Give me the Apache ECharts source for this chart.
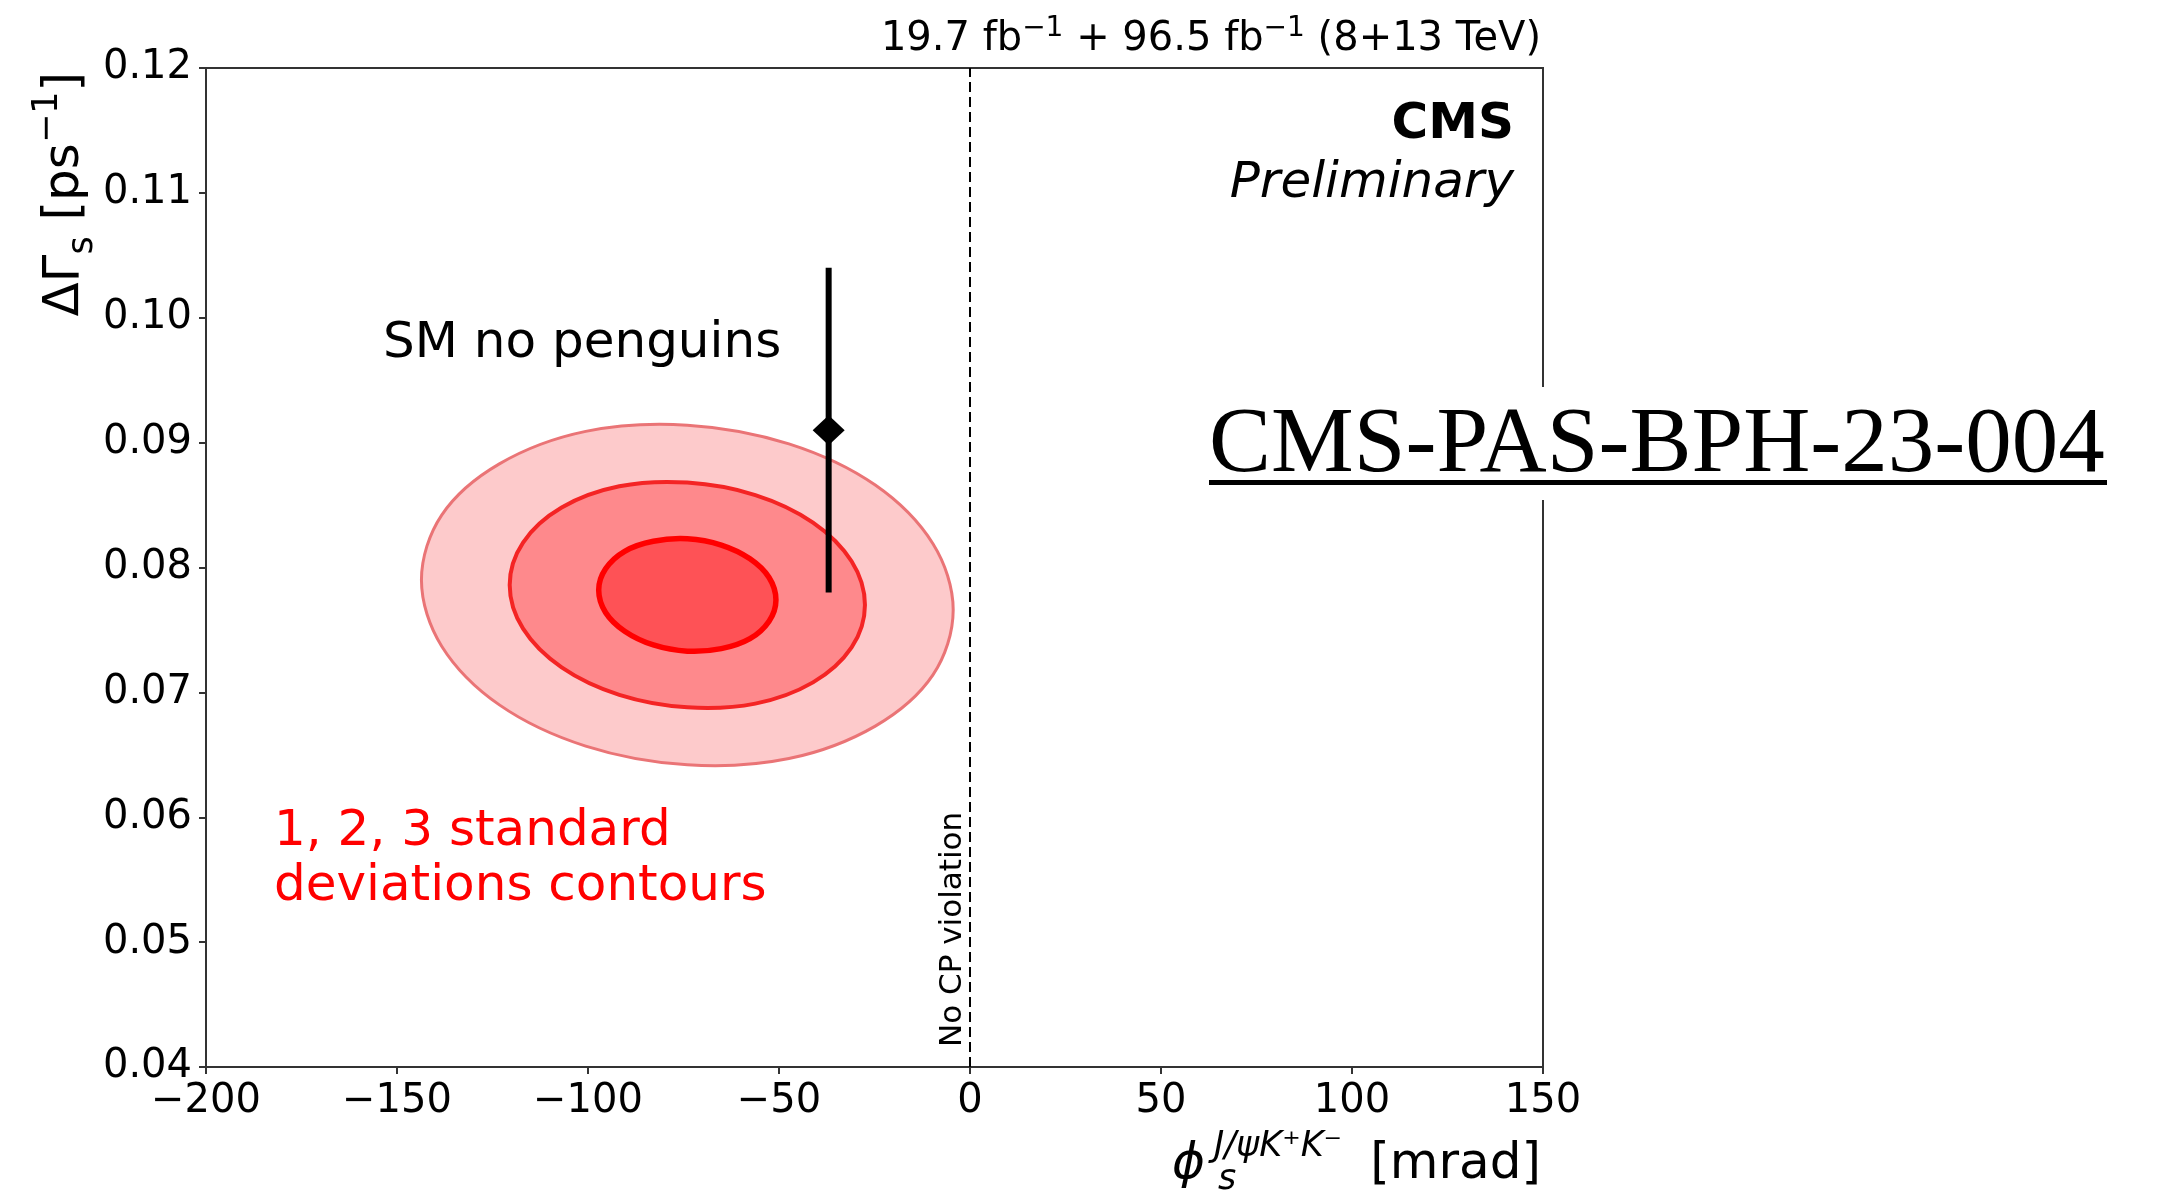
<!DOCTYPE html>
<html>
<head>
<meta charset="utf-8">
<script src="https://cdn.jsdelivr.net/npm/echarts@6/dist/echarts.min.js"></script>
<style>
  html, body { margin: 0; padding: 0; background: #fff; }
  #chart { width: 2162px; height: 1194px; }
</style>
</head>
<body>
<div id="chart"></div>
<script>
// Likelihood contours of the fit in the (phi_s [mrad], Delta Gamma_s [ps^-1]) plane
const contour1sigma = [
  [-50.8, 0.0774], [-52.6, 0.0757], [-57.6, 0.0743], [-65.1, 0.0735],
  [-74.0, 0.0733], [-82.9, 0.0738], [-90.4, 0.0749], [-95.4, 0.0764],
  [-97.2, 0.0782], [-95.4, 0.0799], [-90.4, 0.0813], [-82.9, 0.0821],
  [-74.0, 0.0823], [-65.1, 0.0818], [-57.6, 0.0807], [-52.6, 0.0792]
];
const contour2sigma = [
  [-27.5, 0.0770], [-31.0, 0.0736], [-41.1, 0.0708], [-56.2, 0.0691],
  [-74.0, 0.0688], [-91.8, 0.0698], [-106.9, 0.0720], [-117.0, 0.0751],
  [-120.5, 0.0786], [-117.0, 0.0820], [-106.9, 0.0848], [-91.8, 0.0865],
  [-74.0, 0.0868], [-56.2, 0.0858], [-41.1, 0.0836], [-31.0, 0.0805]
];
const contour3sigma = [
  [-4.4, 0.0766], [-9.7, 0.0714], [-24.8, 0.0673], [-47.4, 0.0647],
  [-74.0, 0.0642], [-100.6, 0.0657], [-123.2, 0.0690], [-138.3, 0.0737],
  [-143.6, 0.0790], [-138.3, 0.0842], [-123.2, 0.0883], [-100.6, 0.0909],
  [-74.0, 0.0914], [-47.4, 0.0899], [-24.8, 0.0866], [-9.7, 0.0819]
];

// Standard Model expectation without penguin contributions
const smPoint = [-37, 0.091];
const smUncertainty = 0.013;

// Reference line for phi_s = 0 (no CP violation)
const noCpLine = [[0, 0.04], [0, 0.12]];

// Axis ranges and tick spacing
const xRange = [-200, 150];
const xStep = 50;
const yRange = [0.04, 0.12];
const yStep = 0.01;

const FONT = 'DejaVu Sans';
const chart = echarts.init(document.getElementById('chart'), null, { renderer: 'canvas' });

function contourSeries(points, fill, stroke, width) {
  return {
    type: 'custom',
    coordinateSystem: 'cartesian2d',
    silent: true,
    data: points,
    renderItem(params, api) {
      if (params.dataIndex !== 0) return null;
      const pts = points.map(p => api.coord(p));
      return {
        type: 'polygon',
        shape: { points: pts, smooth: 0.34 },
        style: { fill: fill, stroke: stroke, lineWidth: width }
      };
    }
  };
}

const minus = v => (v < 0 ? '\u2212' + Math.abs(v) : String(v));

const option = {
  backgroundColor: '#fff',
  animation: false,
  grid: {
    left: 206, right: 619, top: 68, bottom: 127,
    show: true, borderColor: '#333', borderWidth: 2,
    containLabel: false, outerBoundsMode: 'none'
  },
  xAxis: {
    type: 'value', min: xRange[0], max: xRange[1], interval: xStep,
    axisLine: { show: true, onZero: false, lineStyle: { color: '#333', width: 2 } },
    axisTick: { show: true, length: 7, lineStyle: { color: '#333', width: 2 } },
    splitLine: { show: false },
    axisLabel: {
      show: true, margin: 15, color: '#000', fontFamily: FONT, fontSize: 40,
      showMinLabel: true, showMaxLabel: true, formatter: minus
    }
  },
  yAxis: {
    type: 'value', min: yRange[0], max: yRange[1], interval: yStep,
    axisLine: { show: true, onZero: false, lineStyle: { color: '#333', width: 2 } },
    axisTick: { show: true, length: 7, lineStyle: { color: '#333', width: 2 } },
    splitLine: { show: false },
    axisLabel: {
      show: true, margin: 14, color: '#000', fontFamily: FONT, fontSize: 40,
      showMinLabel: true, showMaxLabel: true, formatter: v => v.toFixed(2)
    }
  },
  series: [
    contourSeries(contour3sigma, '#fdcacb', '#ea7476', 3),
    contourSeries(contour2sigma, '#fe898c', '#f42424', 4),
    contourSeries(contour1sigma, '#fe5256', '#ff0000', 5.5),
    {
      type: 'line',
      data: noCpLine,
      symbol: 'none',
      silent: true,
      lineStyle: { color: '#000', width: 2, type: [10, 5] },
      z: 3
    },
    {
      type: 'custom',
      coordinateSystem: 'cartesian2d',
      silent: true,
      data: [[smPoint[0], smPoint[1] - smUncertainty, smPoint[1] + smUncertainty]],
      encode: { x: 0, y: [1, 2] },
      renderItem(params, api) {
        const x = api.value(0);
        const lo = api.coord([x, api.value(1)]);
        const hi = api.coord([x, api.value(2)]);
        return {
          type: 'line',
          shape: { x1: lo[0], y1: lo[1], x2: hi[0], y2: hi[1] },
          style: { stroke: '#000', lineWidth: 6 }
        };
      },
      z: 4
    },
    {
      type: 'scatter',
      data: [smPoint],
      symbol: 'diamond',
      symbolSize: [32, 30],
      silent: true,
      itemStyle: { color: '#000', opacity: 1 },
      z: 5
    }
  ],
  graphic: [
    // luminosity / energy header
    {
      type: 'text', x: 1541, y: 40, z: 100,
      style: {
        text: '{m|19.7 fb}{s|\u22121}{m| + 96.5 fb}{s|\u22121}{m| (8+13 TeV)}',
        align: 'right', verticalAlign: 'middle',
        rich: {
          m: { fontFamily: FONT, fontSize: 40, lineHeight: 50, fill: '#000' },
          s: { fontFamily: FONT, fontSize: 28, lineHeight: 28, verticalAlign: 'top', fill: '#000' }
        }
      }
    },
    // y-axis title
    {
      type: 'text', x: 65, y: 72, rotation: Math.PI / 2, z: 100,
      style: {
        text: '{m|\u0394\u0393}{b|s}{m| [ps}{t|\u22121}{m|]}',
        align: 'right', verticalAlign: 'middle',
        rich: {
          m: { fontFamily: FONT, fontSize: 50, lineHeight: 70, fill: '#000' },
          b: { fontFamily: FONT, fontSize: 35, lineHeight: 52, verticalAlign: 'bottom', fill: '#000' },
          t: { fontFamily: FONT, fontSize: 35, lineHeight: 40, verticalAlign: 'top', fill: '#000' }
        }
      }
    },
    // x-axis title
    {
      type: 'text', x: 1541, y: 1165, z: 100,
      style: { text: '[mrad]', fontFamily: FONT, fontSize: 50, fill: '#000', align: 'right', verticalAlign: 'middle' }
    },
    {
      type: 'text', x: 1172, y: 1165, z: 100,
      style: { text: '\u03D5', fontFamily: FONT, fontStyle: 'italic', fontSize: 50, fill: '#000', align: 'left', verticalAlign: 'middle' }
    },
    {
      type: 'text', x: 1214, y: 1147, z: 100,
      style: { text: 'J/\u03C8K\u207AK\u207B', fontFamily: FONT, fontStyle: 'italic', fontSize: 35, fill: '#000', align: 'left', verticalAlign: 'middle' }
    },
    {
      type: 'text', x: 1218, y: 1180, z: 100,
      style: { text: 's', fontFamily: FONT, fontStyle: 'italic', fontSize: 35, fill: '#000', align: 'left', verticalAlign: 'middle' }
    },
    // experiment label
    {
      type: 'text', x: 1514, y: 125, z: 100,
      style: { text: 'CMS', fontFamily: FONT, fontWeight: 'bold', fontSize: 50, fill: '#000', align: 'right', verticalAlign: 'middle' }
    },
    {
      type: 'text', x: 1514, y: 184, z: 100,
      style: { text: 'Preliminary', fontFamily: FONT, fontStyle: 'italic', fontSize: 50, fill: '#000', align: 'right', verticalAlign: 'middle' }
    },
    // annotations
    {
      type: 'text', x: 383, y: 344, z: 100,
      style: { text: 'SM no penguins', fontFamily: FONT, fontSize: 50, fill: '#000', align: 'left', verticalAlign: 'middle' }
    },
    {
      type: 'text', x: 274, y: 832, z: 100,
      style: { text: '1, 2, 3 standard', fontFamily: FONT, fontSize: 50, fill: '#ff0000', align: 'left', verticalAlign: 'middle' }
    },
    {
      type: 'text', x: 274, y: 887, z: 100,
      style: { text: 'deviations contours', fontFamily: FONT, fontSize: 50, fill: '#ff0000', align: 'left', verticalAlign: 'middle' }
    },
    {
      type: 'text', x: 968, y: 1047, rotation: Math.PI / 2, z: 100,
      style: { text: 'No CP violation', fontFamily: FONT, fontSize: 31, fill: '#000', align: 'left', verticalAlign: 'bottom' }
    },
    // document reference tag
    {
      type: 'rect', z: 110,
      shape: { x: 1195, y: 387, width: 925, height: 113 },
      style: { fill: '#fff' }
    },
    {
      type: 'text', x: 1209, y: 447, z: 111,
      style: { text: 'CMS-PAS-BPH-23-004', fontFamily: 'Liberation Serif', fontSize: 93, fill: '#000', align: 'left', verticalAlign: 'middle' }
    },
    {
      type: 'rect', z: 111,
      shape: { x: 1209, y: 480, width: 898, height: 5 },
      style: { fill: '#000' }
    }
  ]
};

chart.setOption(option);
</script>
</body>
</html>
